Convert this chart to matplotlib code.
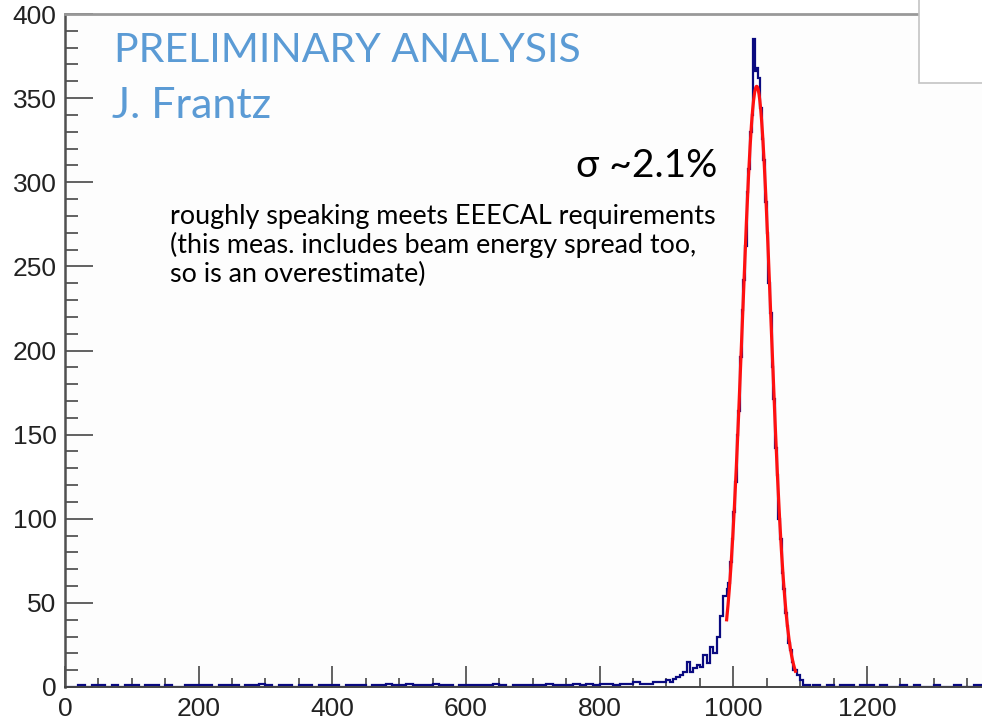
import numpy as np
import matplotlib
matplotlib.use('Agg')
import matplotlib.pyplot as plt
from matplotlib.ticker import MultipleLocator
from matplotlib.patches import Rectangle

# histogram counts
# 0 - 900, 10 wide bins
bg_counts = [0, 0, 1, 0, 1, 1, 0, 1, 0, 1,
             1, 0, 1, 1, 0, 1, 0, 0, 1, 1,
             1, 1, 0, 1, 1, 1, 0, 1, 1, 2,
             1, 0, 1, 1, 0, 1, 1, 0, 1, 1,
             1, 0, 1, 1, 1, 0, 1, 1, 2, 1,
             1, 2, 1, 1, 1, 2, 1, 1, 0, 1,
             1, 1, 1, 1, 2, 1, 0, 1, 1, 1,
             1, 1, 2, 1, 1, 1, 2, 1, 2, 1,
             2, 2, 1, 2, 2, 3, 2, 2, 3, 3]
# 900 - 990, 5 wide bins
rise_counts = [4, 3, 5, 6, 7, 9, 15, 9, 11, 13,
               12, 19, 14, 24, 20, 30, 42, 54]
# 990 - 1090, 2.5 wide bins
peak_counts = [58, 62, 74, 88, 104, 122, 150, 164, 196, 224,
               242, 262, 294, 308, 330, 340, 385, 366, 368, 362,
               344, 326, 313, 288, 270, 240, 222, 190, 171, 142,
               126, 100, 88, 68, 58, 44, 36, 26, 22, 15]
# 1090 - 1120, 5 wide bins
fall_counts = [10, 7, 4, 1, 1, 0]
# 1120 - 1400, 10 wide bins
tail_counts = [1, 0, 1, 0, 1, 1, 0, 1, 1, 0,
               1, 0, 0, 1, 0, 1, 0, 0, 1, 0,
               0, 1, 0, 0, 1, 0, 0, 0]

# gaussian fit drawn in red
fit_amp = 357
fit_mean = 1035
fit_sigma = 21.5
fit_range = (990, 1093)

edges = np.concatenate([np.arange(0, 900, 10),
                        np.arange(900, 990, 5),
                        np.arange(990, 1090, 2.5),
                        np.arange(1090, 1120, 5),
                        np.arange(1120, 1401, 10)])
counts = bg_counts + rise_counts + peak_counts + fall_counts + tail_counts

W, H = 982, 721
fig = plt.figure(figsize=(W / 100, H / 100), dpi=100)

def fx(px):
    return px / W

def fy(py):
    return 1 - py / H

# axes placed in pixels: x=0 at 65px, 0.668 px per unit; y=0 at 687px, 400 at 14px
x0, y0, ytop = 65, 687, 14
xscale = 0.6683
xmax = 1390
ax = fig.add_axes([fx(x0), fy(y0), xmax * xscale / W, (y0 - ytop) / H])
ax.set_facecolor('#fdfdfd')

ax.stairs(counts, edges, color='#0a0a80', linewidth=1.6, zorder=2)

xf = np.linspace(fit_range[0], fit_range[1], 300)
yf = fit_amp * np.exp(-0.5 * ((xf - fit_mean) / fit_sigma) ** 2)
ax.plot(xf, yf, color='#ff1010', linewidth=2.3, zorder=3)

ax.set_xlim(0, xmax)
ax.set_ylim(0, 400)

ax.xaxis.set_major_locator(MultipleLocator(200))
ax.xaxis.set_minor_locator(MultipleLocator(50))
ax.yaxis.set_major_locator(MultipleLocator(50))
ax.yaxis.set_minor_locator(MultipleLocator(10))

ax.tick_params(axis='both', which='both', direction='in', color='#555555',
               labelcolor='#222222', labelsize=19, width=1.3)
ax.tick_params(axis='y', which='major', length=20, pad=6)
ax.tick_params(axis='y', which='minor', length=9.5)
ax.tick_params(axis='x', which='major', length=15, pad=7)
ax.tick_params(axis='x', which='minor', length=6.5)
ax.tick_params(top=False, right=False, which='both')
for lab in ax.get_xticklabels() + ax.get_yticklabels():
    lab.set_family('Liberation Sans')

ax.spines['left'].set_color('#505050')
ax.spines['left'].set_linewidth(1.8)
ax.spines['bottom'].set_color('#444444')
ax.spines['bottom'].set_linewidth(1.4)
ax.spines['top'].set_color('#999999')
ax.spines['top'].set_linewidth(2.0)
ax.spines['right'].set_visible(False)

# white stats box in the top right corner
fig.patches.append(Rectangle((fx(919), fy(83)), fx(982 - 919) + 0.01, fy(0) - fy(83) + 0.01,
                             transform=fig.transFigure, facecolor='white',
                             edgecolor='#c4c4c4', linewidth=1.2, zorder=5))

blue = '#5b9bd5'
fig.text(fx(114), fy(62), 'PRELIMINARY ANALYSIS', color=blue, family='Lato',
         fontsize=29.5, va='baseline', ha='left')
fig.text(fx(112), fy(118), 'J. Frantz', color=blue, family='Lato',
         fontsize=31, va='baseline', ha='left')

fig.text(fx(717), fy(177), 'σ ~2.1%', color='black', family='Lato',
         fontsize=28, va='baseline', ha='right')

notes = ['roughly speaking meets EEECAL requirements',
         '(this meas. includes beam energy spread too,',
         'so is an overestimate)']
for i, line in enumerate(notes):
    fig.text(fx(170), fy(224 + 29 * i), line, color='black', family='Lato',
             fontsize=19.4, va='baseline', ha='left')

fig.savefig('out.png', dpi=100)
